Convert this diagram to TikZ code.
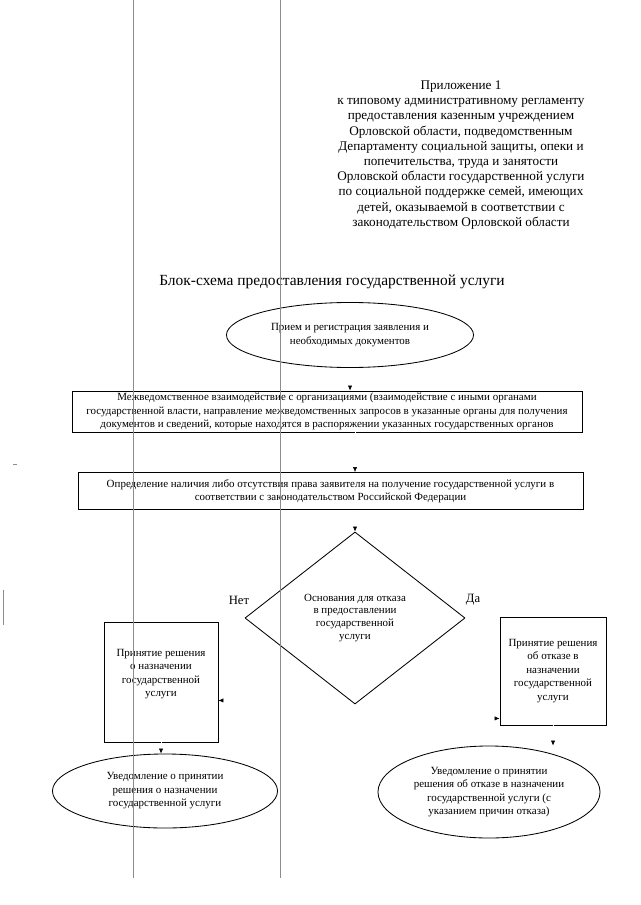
\documentclass[tikz,border=0pt]{standalone}
\usepackage{fontspec}
\setmainfont{Liberation Serif}
\usepackage{tikz}
\usetikzlibrary{shapes.geometric,arrows.meta,calc,positioning}
\tikzstyle{Ostate}=[shape=ellipse,draw=black,line width=0.6pt,inner sep=0pt,align=center,font=\fontsize{7.8}{9.6}\selectfont]
\tikzstyle{Bstate}=[shape=rectangle,draw=black,line width=0.6pt,inner sep=0pt,align=center,font=\fontsize{7.8}{9.6}\selectfont]
\tikzstyle{Qstate}=[shape=diamond,draw=black,line width=0.6pt,inner sep=0pt,align=center,font=\fontsize{7.8}{9.2}\selectfont]
\tikzstyle{tipedge}=[draw=white,line width=0.4pt,-{Latex[length=3.5pt,width=3pt,color=black]}]
\tikzstyle{scanline}=[draw=black!45,line width=0.5pt]

\begin{document}
\begin{tikzpicture}[x=0.025cm,y=-0.025cm]
 \useasboundingbox (0,0) rectangle (640,905);

 \node[align=center,font=\fontsize{9.4}{10.8}\selectfont] (head) at (461,155) {Приложение 1\\
  к типовому административному регламенту\\
  предоставления казенным учреждением\\
  Орловской области, подведомственным\\
  Департаменту социальной защиты, опеки и\\
  попечительства, труда и занятости\\
  Орловской области государственной услуги\\
  по социальной поддержке семей, имеющих\\
  детей, оказываемой в соответствии с\\
  законодательством Орловской области};

 \node[font=\fontsize{11}{13}\selectfont] (title) at (332,282) {Блок-схема предоставления государственной услуги};

 \node[Ostate,minimum width=6.175cm,minimum height=1.625cm] (e1) at (350,335)
  {Прием и регистрация заявления и\\ необходимых документов};

 \node[Bstate,minimum width=12.75cm,minimum height=1.025cm] (b1) at (327,411.5)
  {Межведомственное взаимодействие с организациями (взаимодействие с иными органами\\
   государственной власти, направление межведомственных запросов в указанные органы для получения\\
   документов и сведений, которые находятся в распоряжении указанных государственных органов};

 \node[Bstate,minimum width=12.625cm,minimum height=0.925cm] (b2) at (330.5,491)
  {Определение наличия либо отсутствия права заявителя на получение государственной услуги в\\
   соответствии с законодательством Российской Федерации};

 \node[Qstate,minimum width=5.5cm,minimum height=4.3cm] (q1) at (355,618)
  {Основания для отказа\\ в предоставлении\\ государственной\\ услуги};

 \node[font=\fontsize{9}{11}\selectfont] (no) at (239,600) {Нет};
 \node[font=\fontsize{9}{11}\selectfont] (yes) at (473,600) {Да};

 \node[Bstate,minimum width=2.85cm,minimum height=3cm] (m1) at (161,682)
  {Принятие решения\\ о назначении\\ государственной\\ услуги\rule[-13pt]{0pt}{13pt}};
 \node[Bstate,minimum width=2.65cm,minimum height=2.7cm] (m2) at (553,671)
  {Принятие решения\\ об отказе в\\ назначении\\ государственной\\ услуги};

 \node[Ostate,minimum width=5.625cm,minimum height=1.85cm] (e2) at (165,791)
  {Уведомление о принятии\\ решения о назначении\\ государственной услуги};
 \node[Ostate,minimum width=5.55cm,minimum height=2.3cm] (e3) at (489,792)
  {Уведомление о принятии\\ решения об отказе в назначении\\ государственной услуги (с\\ указанием причин отказа)};

 \coordinate (m1in) at ($(m1.south east)+(0,-42)$);
 \coordinate (m2in) at ($(m2.south west)+(0,-7)$);

\path
(e1.south) edge [tipedge] (e1.south |- b1.north)
(b1.south -| q1.north) edge [tipedge] (b2.north -| q1.north)
(b2.south -| q1.north) edge [tipedge] (q1.north)
(m1.south) edge [tipedge] (m1.south |- e2.north)
(m2.south) edge [tipedge] (m2.south |- e3.north);

 \draw[tipedge] (q1.west) -| ($(m1in)+(15,0)$) -- (m1in);
 \draw[tipedge] (q1.east) -| ($(m2in)+(-15,0)$) -- (m2in);

 % scan marks
 \draw[scanline] (133,0) -- (133,878);
 \draw[scanline] (280,0) -- (280,878);
 \draw[scanline] (3,590) -- (3,625);
 \draw[scanline] (13,464) -- (17,464);
\end{tikzpicture}
\end{document}
